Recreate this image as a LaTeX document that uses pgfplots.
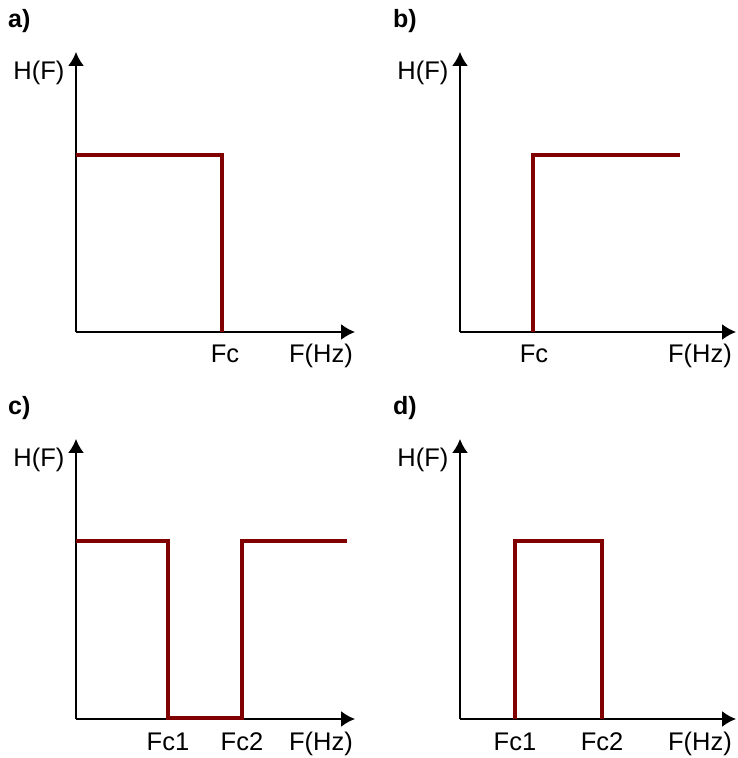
\documentclass[border=0pt]{standalone}
\usepackage{pgfplots}
\pgfplotsset{compat=1.18}
\usepackage{fontspec}
\setmainfont{Liberation Sans}
\usetikzlibrary{arrows.meta}
\definecolor{filt}{RGB}{128,0,0}
\pgfplotsset{
  filtax/.style={
    scale only axis, axis lines=left, clip=false,
    xmin=0, ymin=0, ymax=280, height=280pt,
    xtick=\empty, ytick=\empty,
    axis line style={black, line width=1.8pt},
    x axis line style={-{Latex[length=14pt,width=16pt]}},
    y axis line style={-{Latex[length=14pt,width=16pt]}},
    anchor=south west,
  },
  filtline/.style={filt, line width=3.8pt, line join=miter, mark=none},
}
\newcommand{\lab}{\fontsize{25.5}{29}\selectfont}
\newcommand{\blab}{\fontsize{25}{29}\selectfont\bfseries}
\begin{document}
\begin{tikzpicture}[x=1pt,y=1pt]
\useasboundingbox (0,0) rectangle (737,758);
% panel a
\begin{axis}[filtax, at={(76pt,426pt)}, xmax=279, width=279pt]
\addplot[filtline] coordinates {(0,177) (146,177) (146,0)};
\node[anchor=base] at (axis cs:149,0) [yshift=-31pt] {\lab Fc};
\node[anchor=base] at (axis cs:245,0) [yshift=-31pt] {\lab F(Hz)};
\node[anchor=base east] at (axis cs:0,280) [xshift=-8pt,yshift=-28pt] {\lab H(F)};
\end{axis}
% panel b
\begin{axis}[filtax, at={(460pt,426pt)}, xmax=276, width=276pt]
\addplot[filtline] coordinates {(73,0) (73,177) (220,177)};
\node[anchor=base] at (axis cs:74,0) [yshift=-31pt] {\lab Fc};
\node[anchor=base] at (axis cs:240,0) [yshift=-31pt] {\lab F(Hz)};
\node[anchor=base east] at (axis cs:0,280) [xshift=-8pt,yshift=-28pt] {\lab H(F)};
\end{axis}
% panel c
\begin{axis}[filtax, at={(76pt,39pt)}, xmax=279, width=279pt]
\addplot[filtline] coordinates {(0,178) (92,178) (92,1) (166,1) (166,178) (271,178)};
\node[anchor=base] at (axis cs:92,0) [yshift=-31pt] {\lab Fc1};
\node[anchor=base] at (axis cs:166,0) [yshift=-31pt] {\lab Fc2};
\node[anchor=base] at (axis cs:245,0) [yshift=-31pt] {\lab F(Hz)};
\node[anchor=base east] at (axis cs:0,280) [xshift=-8pt,yshift=-28pt] {\lab H(F)};
\end{axis}
% panel d
\begin{axis}[filtax, at={(460pt,39pt)}, xmax=276, width=276pt]
\addplot[filtline] coordinates {(55,0) (55,178) (142,178) (142,0)};
\node[anchor=base] at (axis cs:55,0) [yshift=-31pt] {\lab Fc1};
\node[anchor=base] at (axis cs:142,0) [yshift=-31pt] {\lab Fc2};
\node[anchor=base] at (axis cs:240,0) [yshift=-31pt] {\lab F(Hz)};
\node[anchor=base east] at (axis cs:0,280) [xshift=-8pt,yshift=-28pt] {\lab H(F)};
\end{axis}
% panel letters
\node[anchor=base west, inner sep=0pt] at (8,730) {\blab a)};
\node[anchor=base west, inner sep=0pt] at (393,730) {\blab b)};
\node[anchor=base west, inner sep=0pt] at (8,343) {\blab c)};
\node[anchor=base west, inner sep=0pt] at (393,343) {\blab d)};
\end{tikzpicture}
\end{document}
